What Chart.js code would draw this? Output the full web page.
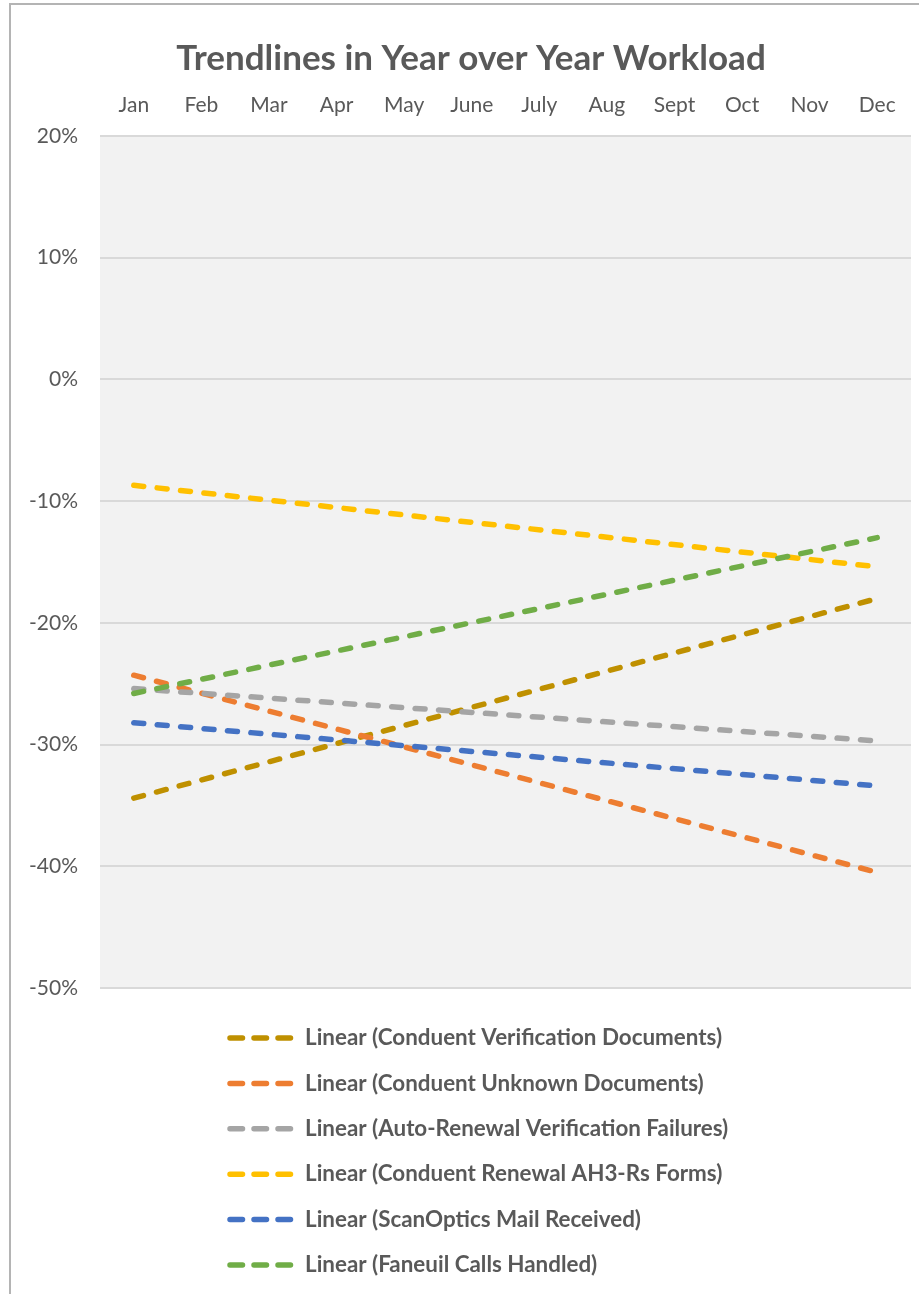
<!DOCTYPE html>
<html>
<head>
<meta charset="utf-8">
<title>Trendlines in Year over Year Workload</title>
<script src="https://cdn.jsdelivr.net/npm/chart.js@4.4.1/dist/chart.umd.min.js"></script>
<style>
    html, body { margin: 0; padding: 0; background: #ffffff; overflow: hidden; }
    #wrap { position: relative; width: 919px; height: 1294px; }
    #wrap canvas { position: absolute; left: 0; top: 0; }
    /* outer chart frame, runs off the right and bottom edges */
    #frame {
        position: absolute; left: 9px; top: 3px; width: 960px; height: 1340px;
        border: 2px solid #b4b4b4; box-sizing: border-box; pointer-events: none;
    }
</style>
</head>
<body>
<div id="wrap">
    <canvas id="workloadChart" width="919" height="1294"></canvas>
    <div id="frame"></div>
</div>
<script>
// Months along the top axis
const months = ['Jan', 'Feb', 'Mar', 'Apr', 'May', 'June', 'July', 'Aug', 'Sept', 'Oct', 'Nov', 'Dec'];

// Series the trendlines were fitted to
const seriesNames = [
    'Conduent Verification Documents',
    'Conduent Unknown Documents',
    'Auto-Renewal Verification Failures',
    'Conduent Renewal AH3-Rs Forms',
    'ScanOptics Mail Received',
    'Faneuil Calls Handled'
];

// Trendline value (% change year over year) at January and at December
const janTrend = [-34.4, -24.3, -25.4, -8.7, -28.2, -25.8];
const decTrend = [-18.0, -40.5, -29.7, -15.4, -33.4, -13.0];

const seriesColors = ['#bf9000', '#ed7d31', '#a5a5a5', '#ffc000', '#4472c4', '#70ad47'];

const yTicks = { min: -50, max: 20, step: 10 };

const FONT = 'Lato, "Open Sans", sans-serif';
const TEXT = '#595959';

// Only the two ends of each linear trend are given; spanGaps joins them
function trendPoints(k) {
    return months.map((m, i) => {
        if (i === 0) return janTrend[k];
        if (i === months.length - 1) return decTrend[k];
        return null;
    });
}

const datasets = seriesNames.map((name, k) => ({
    label: `Linear (${name})`,
    data: trendPoints(k),
    borderColor: seriesColors[k],
    borderWidth: 5.5,
    borderDash: [10, 13.5],
    borderCapStyle: 'round',
    pointRadius: 0,
    spanGaps: true,
    fill: false,
    order: seriesNames.length - k   // later series painted on top
}));

// Grey fill behind the plot area; title centred inside the frame rather than the canvas
const plotBackground = {
    id: 'plotBackground',
    afterLayout(chart) {
        chart.titleBlock.left = 31;
    },
    beforeDraw(chart) {
        const { ctx, chartArea: a } = chart;
        ctx.save();
        ctx.fillStyle = '#f2f2f2';
        ctx.fillRect(a.left, a.top, a.right - a.left, a.bottom - a.top);
        ctx.restore();
    }
};

// Vertical legend under the plot, all rows starting at the same x
const trendLegend = {
    id: 'trendLegend',
    afterDraw(chart) {
        const ctx = chart.ctx;
        const top = chart.chartArea.bottom + 50;
        chart.data.datasets.forEach((ds, i) => {
            const y = top + i * 45.4;
            ctx.save();
            ctx.strokeStyle = ds.borderColor;
            ctx.lineWidth = ds.borderWidth;
            ctx.lineCap = 'round';
            ctx.setLineDash([12.5, 11.5]);
            ctx.beginPath();
            ctx.moveTo(230, y);
            ctx.lineTo(291, y);
            ctx.stroke();
            ctx.setLineDash([]);
            ctx.fillStyle = TEXT;
            ctx.font = `bold 22.4px ${FONT}`;
            ctx.textBaseline = 'middle';
            ctx.fillText(ds.label, 305, y);
            ctx.restore();
        });
    }
};

new Chart(document.getElementById('workloadChart').getContext('2d'), {
    type: 'line',
    data: { labels: months, datasets: datasets },
    plugins: [plotBackground, trendLegend],
    options: {
        responsive: false,
        animation: false,
        layout: { padding: { left: 0, right: 8, top: 0, bottom: 306 } },
        plugins: {
            legend: { display: false },
            tooltip: { enabled: false },
            title: {
                display: true,
                text: 'Trendlines in Year over Year Workload',
                color: TEXT,
                font: { family: FONT, size: 35, weight: 'bold' },
                padding: { top: 38, bottom: 0 }
            }
        },
        scales: {
            x: {
                position: 'top',
                offset: true,
                grid: { display: false, drawTicks: false },
                border: { display: false },
                ticks: { color: TEXT, font: { family: FONT, size: 21 }, padding: 18, maxRotation: 0 },
                afterFit(scale) { scale.height = 56; }
            },
            y: {
                min: yTicks.min,
                max: yTicks.max,
                grid: { color: '#d9d9d9', lineWidth: 2, drawTicks: false },
                border: { display: false },
                ticks: {
                    stepSize: yTicks.step,
                    color: TEXT,
                    font: { family: FONT, size: 21 },
                    padding: 22,
                    callback: v => `${v}%`
                },
                afterFit(scale) { scale.width = 100; }
            }
        }
    }
});
</script>
</body>
</html>
